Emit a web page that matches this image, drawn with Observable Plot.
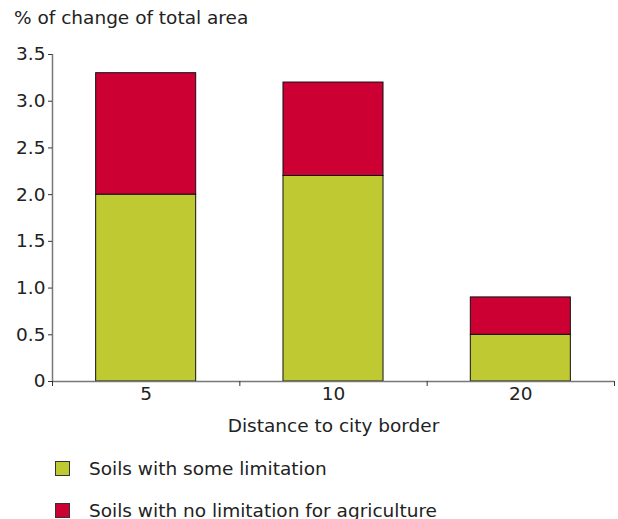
<!DOCTYPE html>
<html>
<head>
<meta charset="utf-8">
<script src="https://cdn.jsdelivr.net/npm/d3@7"></script>
<script src="https://cdn.jsdelivr.net/npm/@observablehq/plot@0.6"></script>
<style>
  body { margin: 0; background: #fff; font-family: "DejaVu Sans", Verdana, sans-serif; color: #222; }
  #wrap { width: 618px; height: 519px; }
  #title { height: 30px; padding-left: 14px; font-size: 18.5px; line-height: 20px; box-sizing: border-box; padding-top: 8px; }
  #chart { height: 417px; }
  #chart svg { display: block; }
  .leg { padding-left: 55px; font-size: 18.5px; display: flex; align-items: center; height: 42px; }
  .sw { width: 13px; height: 13px; border: 1px solid #333; margin-right: 19px; }
</style>
</head>
<body>
<div id="wrap">
  <div id="title">% of change of total area</div>
  <div id="chart"></div>
  <div class="leg"><div class="sw" style="background:#BFCA33"></div>Soils with some limitation</div>
  <div class="leg"><div class="sw" style="background:#CC0033"></div>Soils with no limitation for agriculture</div>
</div>
<script>
const distances = ["5", "10", "20"];
const someLimitation = [2.0, 2.2, 0.5];
const noLimitation = [1.3, 1.0, 0.4];
const seriesNames = ["Soils with some limitation", "Soils with no limitation for agriculture"];
const seriesColors = ["#BFCA33", "#CC0033"];
const yTicks = [0, 0.5, 1.0, 1.5, 2.0, 2.5, 3.0, 3.5];

const halfWidth = 0.267;
const rows = [];
distances.forEach((d, i) => {
  rows.push({i, cat: d, series: seriesNames[0], y1: 0, y2: someLimitation[i]});
  rows.push({i, cat: d, series: seriesNames[1], y1: someLimitation[i], y2: someLimitation[i] + noLimitation[i]});
});

const chart = Plot.plot({
  width: 618,
  height: 417,
  marginLeft: 52,
  marginRight: 4,
  marginTop: 24,
  marginBottom: 66,
  style: { fontFamily: "DejaVu Sans, Verdana, sans-serif", fontSize: "18.5px", color: "#222", background: "#fff" },
  x: { type: "linear", domain: [0, distances.length] },
  y: { domain: [0, 3.5] },
  color: { domain: seriesNames, range: seriesColors },
  marks: [
    Plot.rect(rows, {
      x1: d => d.i + 0.5 - halfWidth,
      x2: d => d.i + 0.5 + halfWidth,
      y1: "y1", y2: "y2",
      fill: "series",
      stroke: "#111",
      strokeWidth: 1
    }),
    Plot.ruleX([0], { y1: 0, y2: 3.5, stroke: "#777", strokeWidth: 1.5 }),
    Plot.ruleY([0], { stroke: "#777", strokeWidth: 1.5 }),
    Plot.axisY({ ticks: yTicks, tickFormat: d => d === 0 ? "0" : d.toFixed(1), tickSize: 4, tickPadding: 3, stroke: "#333", label: null, fontSize: 18.5 }),
    Plot.axisX({ ticks: d3.range(distances.length + 1), tickFormat: () => "", tickSize: 5, stroke: "#333", label: null }),
    Plot.axisX({ ticks: distances.map((d, i) => i + 0.5), tickFormat: (d) => distances[Math.floor(d)], tickSize: 0, tickPadding: 5, label: "Distance to city border", labelAnchor: "center", labelArrow: "none", labelOffset: 50, fontSize: 18.5 })
  ]
});
document.getElementById("chart").appendChild(chart);
</script>
</body>
</html>
